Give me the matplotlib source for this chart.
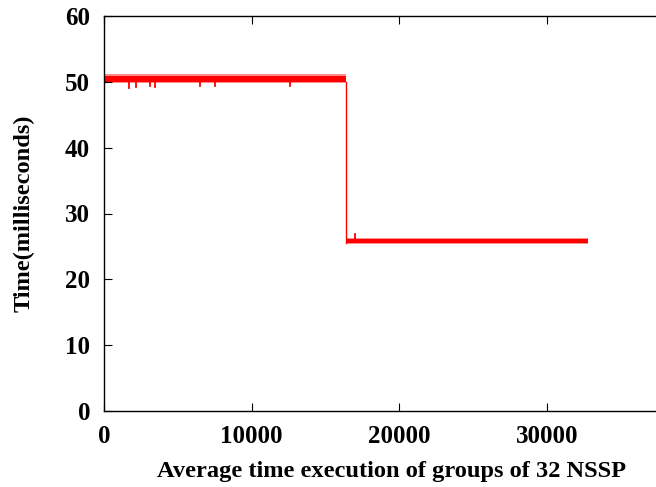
import matplotlib
matplotlib.use("Agg")
import matplotlib.pyplot as plt

# Phases of the measurement (sample index ranges) and their noise envelopes (ms)
phase_start = [0, 16384]
phase_end = [16384, 32768]
band_low = [49.75, 25.4]
band_high = [51.2, 26.35]
core_low = [50.0, 25.55]
core_high = [50.95, 26.1]

# Visible outlier dips / spikes
spike_x = [1700, 2150, 3100, 3450, 6500, 7500, 12600, 17000]
spike_y = [49.1, 49.2, 49.3, 49.2, 49.3, 49.3, 49.4, 26.9]

x_ticks = [0, 10000, 20000, 30000]
y_ticks = [0, 10, 20, 30, 40, 50, 60]

RED = "#ff0000"

plt.rcParams["font.family"] = ["Liberation Serif", "DejaVu Serif"]
plt.rcParams["font.weight"] = "bold"

fig = plt.figure(figsize=(6.56, 4.87), dpi=100)
ax = fig.add_axes([104 / 656, (487 - 411) / 487, 1 - 104 / 656 + 0.002, (411 - 16) / 487])

for s, e, bl, bh, cl, ch in zip(phase_start, phase_end, band_low, band_high, core_low, core_high):
    ax.fill_between([s, e], [bl, bl], [bh, bh], color=RED, alpha=0.45, lw=0)
    ax.fill_between([s, e], [cl, cl], [ch, ch], color=RED, lw=0)

# transition between the two phases
ax.plot([phase_end[0], phase_start[1]], [core_low[0], core_low[1]], color=RED, lw=1.0)

for sx, sy in zip(spike_x, spike_y):
    base = core_low[0] if sx < phase_end[0] else core_high[1]
    ax.plot([sx, sx], [base, sy], color=RED, lw=1.3)

ax.set_xlim(0, 37450)
ax.set_ylim(0, 60)
ax.set_xticks(x_ticks)
ax.set_yticks(y_ticks)
ax.spines["right"].set_visible(False)
for sp in ax.spines.values():
    sp.set_linewidth(1.0)
ax.tick_params(direction="in", length=6, width=0.8, top=True, right=False,
               labelsize=18, pad=10)
for lbl in ax.get_xticklabels() + ax.get_yticklabels():
    lbl.set_fontweight("bold")

ax.set_xlabel("Average time execution of groups of 32 NSSP", fontsize=17.6, fontweight="bold")
ax.xaxis.set_label_coords(0.52, -0.126)
ax.set_ylabel("Time(milliseconds)", fontsize=17.6, fontweight="bold", labelpad=22)

fig.savefig("out.png", dpi=100)
